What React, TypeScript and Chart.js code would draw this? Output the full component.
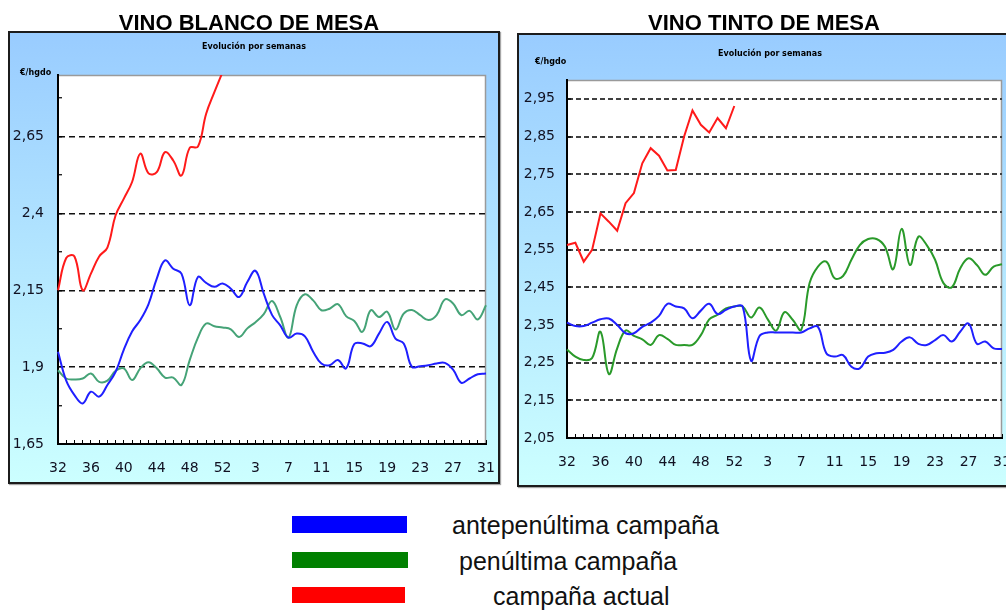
import React, { useEffect, useRef } from 'react';
import { Chart, registerables } from 'chart.js';

Chart.register(...registerables);

// Semanas de campaña (32 .. 53, 1 .. 31)
const WEEKS = [
  32, 33, 34, 35, 36, 37, 38, 39, 40, 41, 42, 43, 44, 45, 46, 47, 48, 49, 50, 51, 52, 53,
  1, 2, 3, 4, 5, 6, 7, 8, 9, 10, 11, 12, 13, 14, 15, 16, 17, 18, 19, 20, 21, 22, 23, 24,
  25, 26, 27, 28, 29, 30, 31,
];

// VINO BLANCO DE MESA (€/hgdo)
const BLANCO_ANTEPENULTIMA = [
  1.95, 1.856, 1.809, 1.782, 1.82, 1.804, 1.842, 1.885, 1.957, 2.016, 2.053, 2.105, 2.188,
  2.247, 2.22, 2.204, 2.101, 2.193, 2.174, 2.161, 2.172, 2.155, 2.128, 2.177, 2.213, 2.139,
  2.07, 2.036, 1.996, 2.009, 2.0, 1.95, 1.912, 1.906, 1.923, 1.896, 1.975, 1.977, 1.968,
  2.009, 2.047, 1.993, 1.977, 1.901, 1.903, 1.906, 1.912, 1.914, 1.892, 1.849, 1.863, 1.877,
  1.879,
];
const BLANCO_PENULTIMA = [
  1.89, 1.863, 1.86, 1.863, 1.879, 1.852, 1.856, 1.888, 1.896, 1.858, 1.896, 1.916, 1.896,
  1.866, 1.866, 1.842, 1.923, 1.996, 2.042, 2.033, 2.029, 2.023, 1.998, 2.026, 2.046, 2.072,
  2.115, 2.063, 1.996, 2.101, 2.137, 2.117, 2.085, 2.09, 2.105, 2.066, 2.05, 2.015, 2.085,
  2.063, 2.08, 2.022, 2.074, 2.086, 2.069, 2.053, 2.069, 2.12, 2.107, 2.069, 2.083, 2.055,
  2.101,
];
const BLANCO_ACTUAL = [
  2.15, 2.255, 2.26, 2.15, 2.204, 2.26, 2.289, 2.394, 2.448, 2.502, 2.594, 2.53, 2.534, 2.599,
  2.572, 2.523, 2.613, 2.617, 2.724, 2.794, 2.86,
];

// VINO TINTO DE MESA (€/hgdo)
const TINTO_ANTEPENULTIMA = [
  2.356, 2.347, 2.347, 2.356, 2.365, 2.367, 2.35, 2.328, 2.328, 2.345, 2.356, 2.374, 2.406,
  2.399, 2.394, 2.368, 2.388, 2.406, 2.379, 2.39, 2.399, 2.399, 2.255, 2.32, 2.33, 2.33,
  2.33, 2.33, 2.33, 2.341, 2.345, 2.275, 2.266, 2.27, 2.239, 2.235, 2.266, 2.275, 2.276,
  2.284, 2.306, 2.317, 2.3, 2.297, 2.31, 2.323, 2.306, 2.332, 2.354, 2.3, 2.306, 2.288,
  2.286,
];
const TINTO_PENULTIMA = [
  2.285, 2.266, 2.257, 2.262, 2.332, 2.22, 2.288, 2.335, 2.321, 2.312, 2.297, 2.323, 2.313,
  2.297, 2.297, 2.297, 2.323, 2.365, 2.377, 2.394, 2.399, 2.399, 2.37, 2.396, 2.365, 2.335,
  2.384, 2.363, 2.337, 2.461, 2.505, 2.518, 2.474, 2.48, 2.523, 2.562, 2.578, 2.578, 2.558,
  2.498, 2.605, 2.509, 2.584, 2.562, 2.523, 2.461, 2.45, 2.5, 2.527, 2.509, 2.483, 2.505,
  2.511,
];
const TINTO_ACTUAL = [
  2.562, 2.568, 2.518, 2.549, 2.646, 2.624, 2.6, 2.673, 2.7, 2.779, 2.819, 2.799, 2.76, 2.761,
  2.85, 2.919, 2.881, 2.861, 2.899, 2.872, 2.931,
];

// Ejes
const BLANCO_Y_MIN = 1.65;
const BLANCO_Y_MAX = 2.85;
const BLANCO_Y_MAJOR = [1.65, 1.9, 2.15, 2.4, 2.65];
const BLANCO_Y_LABELS = ['1,65', '1,9', '2,15', '2,4', '2,65'];
const BLANCO_Y_MINOR = [1.775, 2.025, 2.275, 2.525, 2.775];

const TINTO_Y_MIN = 2.05;
const TINTO_Y_MAX = 3.0;
const TINTO_Y_MAJOR = [2.05, 2.15, 2.25, 2.35, 2.45, 2.55, 2.65, 2.75, 2.85, 2.95];
const TINTO_Y_LABELS = ['2,05', '2,15', '2,25', '2,35', '2,45', '2,55', '2,65', '2,75', '2,85', '2,95'];
const TINTO_Y_MINOR = [2.1, 2.2, 2.3, 2.4, 2.5, 2.6, 2.7, 2.8, 2.9, 3.0];

const LEGEND_LABELS = ['antepenúltima campaña', 'penúltima campaña', 'campaña actual'];
const LEGEND_COLORS = ['#0000ff', '#008000', '#ff0000'];

type Series = { data: number[]; color: string; tension: number };
type Spec = {
  series: Series[];
  yMin: number;
  yMax: number;
  yMajor: number[];
  yLabels: string[];
  yMinor: number[];
  gridColor: string;
  gridWidth: number;
  gridDash: number[];
  padTop: number;
  padRight: number;
  yAxisWidth: number;
  xAxisHeight: number;
  yPad: number;
  xPad: number;
};

const eq = (a: number, b: number) => Math.abs(a - b) < 1e-6;

function WineChart({ spec, width, height }: { spec: Spec; width: number; height: number }) {
  const ref = useRef<HTMLCanvasElement>(null);
  useEffect(() => {
    if (!ref.current) return;
    const allTicks = [...spec.yMajor, ...spec.yMinor].sort((a, b) => a - b);
    const isMajor = (v: number) => spec.yMajor.some((m) => eq(m, v));
    const labelFor = (v: number) => {
      const i = spec.yMajor.findIndex((m) => eq(m, v));
      return i >= 0 ? spec.yLabels[i] : '';
    };
    const plotBg = {
      id: 'plotBg',
      beforeDraw(chart: any) {
        const { ctx, chartArea: a } = chart;
        ctx.save();
        ctx.fillStyle = '#ffffff';
        ctx.fillRect(a.left, a.top, a.right - a.left, a.bottom - a.top);
        ctx.strokeStyle = '#9a9a9a';
        ctx.lineWidth = 1.5;
        ctx.beginPath();
        ctx.moveTo(a.left, a.top + 0.5);
        ctx.lineTo(a.right - 0.5, a.top + 0.5);
        ctx.lineTo(a.right - 0.5, a.bottom);
        ctx.stroke();
        ctx.restore();
      },
    };
    const chart = new Chart(ref.current, {
      type: 'line',
      data: {
        labels: WEEKS.map(String),
        datasets: spec.series.map((s) => ({
          data: s.data,
          borderColor: s.color,
          borderWidth: 2,
          pointRadius: 0,
          tension: s.tension,
          fill: false,
        })),
      },
      options: {
        responsive: false,
        animation: false,
        devicePixelRatio: 1,
        layout: { padding: { left: 0, top: spec.padTop, right: spec.padRight, bottom: 0 } },
        plugins: { legend: { display: false }, tooltip: { enabled: false }, title: { display: false } },
        scales: {
          x: {
            type: 'category',
            offset: false,
            afterFit: (s: any) => {
              s.height = spec.xAxisHeight;
            },
            grid: {
              offset: false,
              drawOnChartArea: false,
              drawTicks: true,
              tickLength: -4,
              tickColor: '#000',
              tickWidth: 1,
            },
            border: { display: true, color: '#000', width: 2 },
            ticks: {
              autoSkip: false,
              maxRotation: 0,
              minRotation: 0,
              padding: spec.xPad,
              color: '#111122',
              font: { family: 'DejaVu Sans', size: 14 },
              callback: (_v: any, i: number) => (i % 4 === 0 ? String(WEEKS[i]) : ''),
            },
          },
          y: {
            type: 'linear',
            min: spec.yMin,
            max: spec.yMax,
            afterFit: (s: any) => {
              s.width = spec.yAxisWidth;
            },
            afterBuildTicks: (s: any) => {
              s.ticks = allTicks.map((v) => ({ value: v }));
            },
            grid: {
              color: (c: any) =>
                c.tick && isMajor(c.tick.value) && c.tick.value > spec.yMin + 1e-6
                  ? spec.gridColor
                  : 'rgba(0,0,0,0)',
              lineWidth: spec.gridWidth,
              drawTicks: true,
              tickLength: -4,
              tickColor: '#000',
              tickWidth: 1.2,
              tickBorderDash: [],
            },
            border: { display: true, color: '#000', width: 2, dash: spec.gridDash },
            ticks: {
              padding: spec.yPad,
              color: '#111122',
              font: { family: 'DejaVu Sans', size: 14 },
              callback: (v: any) => labelFor(Number(v)),
            },
          },
        },
      } as any,
      plugins: [plotBg],
    });
    return () => chart.destroy();
  }, []);
  return (
    <canvas
      ref={ref}
      width={width}
      height={height}
      style={{ display: 'block', position: 'absolute', left: 0, top: 0, width, height }}
    />
  );
}

const BLANCO_SPEC: Spec = {
  series: [
    { data: BLANCO_ANTEPENULTIMA, color: '#1f1fff', tension: 0.4 },
    { data: BLANCO_PENULTIMA, color: '#45a377', tension: 0.4 },
    { data: BLANCO_ACTUAL, color: '#ff1a1a', tension: 0.4 },
  ],
  yMin: BLANCO_Y_MIN,
  yMax: BLANCO_Y_MAX,
  yMajor: BLANCO_Y_MAJOR,
  yLabels: BLANCO_Y_LABELS,
  yMinor: BLANCO_Y_MINOR,
  gridColor: '#111111',
  gridWidth: 1.5,
  gridDash: [6, 4],
  padTop: 42,
  padRight: 54,
  yAxisWidth: 48,
  xAxisHeight: 38,
  yPad: 18,
  xPad: 20,
};

const TINTO_SPEC: Spec = {
  series: [
    { data: TINTO_ANTEPENULTIMA, color: '#1f1fff', tension: 0.4 },
    { data: TINTO_PENULTIMA, color: '#2a9a2a', tension: 0.4 },
    { data: TINTO_ACTUAL, color: '#ff1a1a', tension: 0 },
  ],
  yMin: TINTO_Y_MIN,
  yMax: TINTO_Y_MAX,
  yMajor: TINTO_Y_MAJOR,
  yLabels: TINTO_Y_LABELS,
  yMinor: TINTO_Y_MINOR,
  gridColor: '#404040',
  gridWidth: 2,
  gridDash: [5, 3],
  padTop: 45,
  padRight: 43,
  yAxisWidth: 48,
  xAxisHeight: 47,
  yPad: 16,
  xPad: 20,
};

const boxStyle = (left: number, top: number, width: number, height: number): React.CSSProperties => ({
  position: 'absolute',
  left,
  top,
  width,
  height,
  boxSizing: 'border-box',
  border: '2px solid #1c1c1c',
  background: 'linear-gradient(to bottom, #99ccff 0%, #ccffff 100%)',
  boxShadow: '1px 1px 1px rgba(0,0,0,0.35)',
});

const titleStyle = (cx: number): React.CSSProperties => ({
  position: 'absolute',
  left: cx - 200,
  width: 400,
  top: 12,
  textAlign: 'center',
  font: 'bold 22px "Liberation Sans", Arial, sans-serif',
  lineHeight: '22px',
  color: '#000',
  zIndex: 2,
  whiteSpace: 'nowrap',
});

const smallStyle = (left: number, top: number, width: number, align: 'center' | 'left'): React.CSSProperties => ({
  position: 'absolute',
  left,
  top,
  width,
  textAlign: align,
  font: 'bold 8px "DejaVu Sans", sans-serif',
  lineHeight: '10px',
  color: '#000',
  whiteSpace: 'nowrap',
  zIndex: 2,
});

export default function App() {
  const legendRects = [
    { left: 292, top: 516, width: 115, height: 17 },
    { left: 292, top: 552, width: 116, height: 16 },
    { left: 292, top: 587, width: 113, height: 16 },
  ];
  const legendTexts = [
    { left: 452, top: 513 },
    { left: 459, top: 549 },
    { left: 493, top: 584 },
  ];
  return (
    <div
      style={{
        position: 'fixed',
        left: 0,
        top: 0,
        width: 1006,
        height: 610,
        overflow: 'hidden',
        background: '#ffffff',
        fontFamily: '"Liberation Sans", Arial, sans-serif',
      }}
    >
      <div style={titleStyle(249)}>VINO BLANCO DE MESA</div>
      <div style={titleStyle(764)}>VINO TINTO DE MESA</div>

      <div style={boxStyle(8, 31, 492, 453)}>
        <WineChart spec={BLANCO_SPEC} width={530} height={449} />
      </div>
      <div style={boxStyle(517, 33, 530, 454)}>
        <WineChart spec={TINTO_SPEC} width={526} height={450} />
      </div>

      <div style={smallStyle(154, 42, 200, 'center')}>Evolución por semanas</div>
      <div style={smallStyle(20, 68, 60, 'left')}>€/hgdo</div>
      <div style={smallStyle(670, 49, 200, 'center')}>Evolución por semanas</div>
      <div style={smallStyle(535, 57, 60, 'left')}>€/hgdo</div>

      {legendRects.map((r, i) => (
        <div
          key={'r' + i}
          style={{ position: 'absolute', ...r, background: LEGEND_COLORS[i] }}
        />
      ))}
      {legendTexts.map((t, i) => (
        <div
          key={'t' + i}
          style={{
            position: 'absolute',
            left: t.left,
            top: t.top,
            font: '25px "Liberation Sans", Arial, sans-serif',
            lineHeight: '25px',
            color: '#111',
            whiteSpace: 'nowrap',
          }}
        >
          {LEGEND_LABELS[i]}
        </div>
      ))}
    </div>
  );
}
